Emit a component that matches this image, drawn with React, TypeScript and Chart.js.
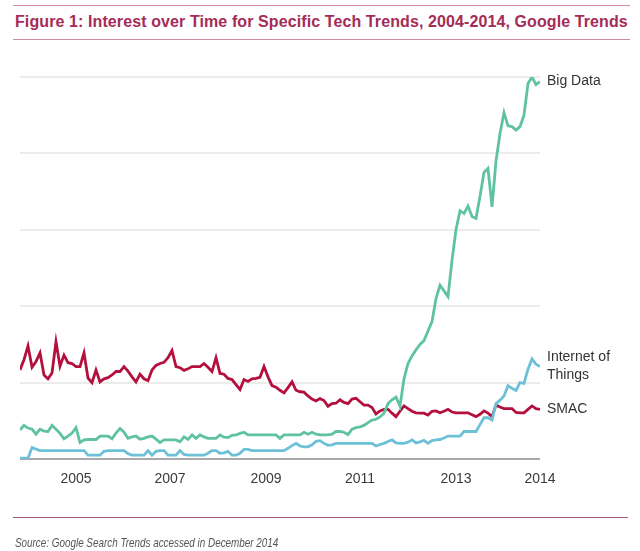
import React, { useEffect, useRef } from "react";
import { Chart, registerables } from "chart.js";

Chart.register(...registerables);

const title = "Figure 1: Interest over Time for Specific Tech Trends, 2004-2014, Google Trends";
const source = "Source: Google Search Trends accessed in December 2014";

// monthly points, Jan 2004 .. Nov 2014 (index 0..130)
const bigData: number[] = [
  7.6, 8.8, 8.1, 7.8, 6.5, 7.8, 7.3, 7.2, 8.8, 7.8,
  6.7, 5.3, 6.0, 6.8, 8.2, 4.3, 5.0, 5.1, 5.1, 5.1,
  6.0, 6.0, 6.0, 5.3, 6.8, 8.0, 7.0, 5.4, 5.8, 6.0,
  5.2, 5.4, 5.8, 6.0, 5.2, 4.3, 5.0, 5.0, 5.0, 5.0,
  4.5, 5.8, 5.1, 6.3, 5.4, 6.3, 5.8, 5.4, 5.4, 5.4,
  6.3, 5.7, 5.6, 6.2, 6.3, 6.7, 7.0, 6.3, 6.3, 6.3,
  6.3, 6.3, 6.3, 6.3, 6.3, 5.4, 6.3, 6.3, 6.3, 6.3,
  6.3, 7.0, 6.5, 7.0, 6.5, 6.3, 6.3, 6.3, 6.5, 7.2,
  7.2, 7.0, 6.4, 7.8, 8.2, 8.4, 8.8, 9.5, 10.2, 10.4,
  11.0, 12.0, 14.5, 15.5, 16.2, 13.8, 21.0, 25.0, 27.0, 28.6,
  30.0, 31.0, 33.5, 36.0, 42.0, 45.5, 44.0, 42.5, 52.0, 60.0,
  65.0, 64.3, 66.2, 63.5, 63.0, 68.7, 75.0, 76.1, 66.0, 78.0,
  85.2, 90.7, 87.2, 87.0, 86.1, 87.0, 90.0, 98.3, 100.0, 98.0,
  98.8,
];

const internetOfThings: number[] = [
  0.2, 0.2, 0.2, 3.0, 2.6, 2.2, 2.2, 2.2, 2.2, 2.2,
  2.2, 2.2, 2.2, 2.2, 2.2, 2.2, 2.2, 1.0, 1.0, 1.0,
  1.0, 2.0, 2.2, 2.2, 2.2, 2.2, 2.2, 1.4, 1.0, 1.0,
  1.0, 1.0, 2.2, 1.0, 2.0, 2.2, 2.2, 1.0, 1.0, 1.0,
  2.2, 1.2, 1.0, 1.0, 1.0, 1.0, 1.0, 1.5, 2.2, 2.2,
  1.5, 1.6, 2.0, 1.0, 1.0, 1.5, 2.5, 2.5, 2.2, 2.2,
  2.2, 2.2, 2.2, 2.2, 2.2, 2.2, 2.2, 2.8, 3.5, 4.1,
  3.4, 3.2, 3.2, 3.7, 4.6, 4.8, 4.1, 3.6, 3.7, 4.1,
  4.1, 4.1, 4.1, 4.1, 4.1, 4.1, 4.1, 4.1, 4.1, 3.4,
  3.8, 4.1, 4.6, 5.0, 4.2, 4.1, 4.1, 4.4, 5.0, 4.2,
  4.5, 4.9, 4.1, 4.8, 5.0, 5.1, 5.5, 6.0, 6.0, 6.0,
  6.0, 7.2, 7.2, 7.2, 7.2, 9.0, 10.8, 10.8, 10.2, 14.5,
  15.4, 16.5, 19.2, 18.5, 17.9, 20.0, 19.8, 23.5, 26.2, 24.8,
  24.2,
];

const smac: number[] = [
  23.3, 26.0, 29.6, 24.0, 25.5, 27.8, 22.0, 21.0, 22.5, 30.7,
  24.3, 27.2, 25.2, 25.0, 24.2, 24.2, 27.8, 21.2, 20.0, 23.3,
  20.2, 21.0, 21.3, 22.0, 22.9, 22.9, 24.2, 23.0, 21.5, 20.2,
  22.2, 21.0, 20.5, 23.3, 24.5, 25.0, 25.3, 26.5, 28.4, 24.2,
  23.9, 23.2, 23.6, 24.2, 24.2, 24.2, 25.0, 24.0, 22.9, 26.5,
  22.4, 22.2, 21.1, 20.8, 19.5, 18.2, 20.8, 20.3, 21.0, 21.1,
  21.4, 24.2, 21.5, 19.2, 18.8, 18.0, 17.3, 18.7, 20.2, 18.0,
  17.6, 17.5, 16.5, 15.7, 15.2, 15.8, 15.3, 13.8, 14.5, 14.6,
  15.5, 14.8, 14.5, 15.7, 15.9, 15.0, 14.1, 14.1, 13.5, 11.8,
  12.6, 13.0, 13.0, 12.0, 11.1, 12.5, 13.9, 13.2, 12.5, 12.1,
  12.0, 12.0, 11.5, 12.5, 12.6, 12.1, 12.5, 13.0, 12.3, 12.1,
  12.1, 12.1, 12.1, 11.6, 11.1, 11.7, 12.6, 12.0, 11.1, 14.1,
  13.6, 13.2, 13.2, 13.2, 12.2, 12.1, 12.1, 13.0, 13.9, 13.2,
  13.0,
];

const seriesLabels: string[][] = [["Big Data"], ["Internet of", "Things"], ["SMAC"]];
const seriesColors = ["#5ec2a3", "#6cc1d8", "#b3103d"];

const tickMonths = [14, 37.5, 61.5, 85, 109, 130];
const tickLabels = ["2005", "2007", "2009", "2011", "2013", "2014"];

const endLabels = {
  id: "endLabels",
  afterDatasetsDraw(chart: any) {
    const ctx = chart.ctx;
    ctx.save();
    ctx.font = "14px 'Liberation Sans', Arial, sans-serif";
    ctx.fillStyle = "#333333";
    ctx.textAlign = "left";
    ctx.textBaseline = "middle";
    chart.data.datasets.forEach((ds: any, i: number) => {
      const meta = chart.getDatasetMeta(i);
      const pt = meta.data[meta.data.length - 1];
      if (!pt) return;
      const lines = seriesLabels[i];
      const lh = 18;
      const y0 = pt.y - ((lines.length - 1) * lh) / 2;
      lines.forEach((t, k) => ctx.fillText(t, pt.x + 7, y0 + k * lh));
    });
    ctx.restore();
  },
};

export default function App() {
  const ref = useRef<HTMLCanvasElement>(null);
  useEffect(() => {
    if (!ref.current) return;
    const labels = bigData.map((_, i) => i);
    const chart = new Chart(ref.current, {
      type: "line",
      data: {
        labels,
        datasets: [bigData, internetOfThings, smac].map((arr, i) => ({
          label: seriesLabels[i].join(" "),
          data: arr.map((v, k) => ({ x: k, y: v })),
          borderColor: seriesColors[i],
          backgroundColor: seriesColors[i],
          borderWidth: 2.8,
          pointRadius: 0,
          tension: 0,
          fill: false,
        })),
      },
      options: {
        animation: false,
        responsive: false,
        layout: { padding: { left: 20, right: 100, top: 77, bottom: 60 } },
        plugins: { legend: { display: false }, tooltip: { enabled: false }, title: { display: false } },
        scales: {
          x: {
            type: "linear",
            min: 0,
            max: 130,
            grid: { display: false, drawTicks: false },
            border: { display: false },
            afterBuildTicks: (scale: any) => {
              scale.ticks = tickMonths.map((v) => ({ value: v }));
            },
            afterFit: (scale: any) => {
              scale.height = 32;
            },
            ticks: {
              autoSkip: false,
              maxRotation: 0,
              padding: 12,
              color: "#3a3a3a",
              font: { family: "'Liberation Sans', Arial, sans-serif", size: 14 },
              callback: (v: any) => {
                const idx = tickMonths.indexOf(Number(v));
                return idx >= 0 ? tickLabels[idx] : "";
              },
            },
          },
          y: {
            min: 0,
            max: 100,
            border: { display: false },
            afterFit: (scale: any) => {
              scale.width = 0;
            },
            ticks: { display: false, stepSize: 20 },
            grid: {
              drawTicks: false,
              lineWidth: 2,
              color: (c: any) => (c.tick && c.tick.value === 0 ? "#a9a9a9" : "#ececec"),
            },
          },
        },
      },
      plugins: [endLabels],
    });
    return () => chart.destroy();
  }, []);

  return (
    <div style={{ position: "absolute", left: 0, top: 0, width: 640, height: 551, background: "#fff", overflow: "hidden" }}>
      <div
        style={{
          position: "absolute",
          left: 13,
          top: 5,
          width: 617,
          height: 33,
          borderTop: "1.5px solid #cf8aa2",
          borderBottom: "1.5px solid #cf8aa2",
        }}
      />
      <div
        style={{
          position: "absolute",
          left: 15,
          top: 11,
          whiteSpace: "nowrap",
          fontFamily: "'Liberation Sans Narrow', 'Liberation Sans', Arial, sans-serif",
          fontWeight: "bold",
          fontSize: 16,
          letterSpacing: "0.1px",
          lineHeight: "22px",
          color: "#a52c56",
        }}
      >
        {title}
      </div>
      <canvas ref={ref} width={640} height={551} style={{ position: "absolute", left: 0, top: 0, width: 640, height: 551 }} />
      <div style={{ position: "absolute", left: 13, top: 517, width: 615, borderTop: "1.5px solid #a6586c" }} />
      <div
        style={{
          position: "absolute",
          left: 15,
          top: 535,
          whiteSpace: "nowrap",
          fontFamily: "'Liberation Sans', Arial, sans-serif",
          fontStyle: "italic",
          fontSize: 12.5,
          lineHeight: "16px",
          color: "#555555",
          transform: "scaleX(0.79)",
          transformOrigin: "left center",
        }}
      >
        {source}
      </div>
    </div>
  );
}
